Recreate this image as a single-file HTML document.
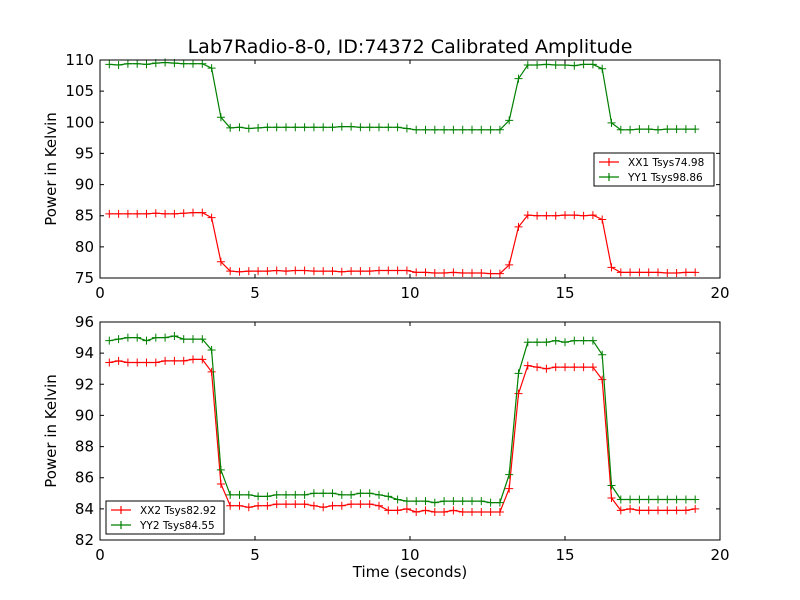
<!DOCTYPE html>
<html><head><meta charset="utf-8"><style>
body{margin:0;background:#fff;}
svg{display:block;font-family:"DejaVu Sans","Liberation Sans",sans-serif;}
</style></head><body>
<svg id="chart" width="800" height="600" viewBox="0 0 800 600">
<rect width="800" height="600" fill="#fff"/>
<text x="410" y="53" font-size="19" text-anchor="middle">Lab7Radio-8-0, ID:74372 Calibrated Amplitude</text>
<text x="410" y="577" font-size="15" text-anchor="middle">Time (seconds)</text>
</svg>
<script>
const times=[];for(let i=0;i<64;i++)times.push(+(0.3+0.3*i).toFixed(2));
const xx1=[85.3,85.3,85.3,85.3,85.3,85.4,85.3,85.3,85.4,85.5,85.5,84.7,77.6,76.1,76.0,76.1,76.1,76.1,76.2,76.1,76.2,76.2,76.1,76.1,76.1,76.0,76.1,76.1,76.1,76.2,76.2,76.2,76.2,75.9,75.9,75.8,75.8,75.9,75.8,75.8,75.8,75.7,75.7,77.1,83.2,85.1,85.0,85.0,85.0,85.1,85.1,85.0,85.1,84.4,76.7,75.9,75.9,75.9,75.9,75.9,75.8,75.8,75.9,75.9];
const yy1=[109.3,109.2,109.4,109.4,109.3,109.5,109.6,109.5,109.4,109.4,109.4,108.7,100.8,99.1,99.2,99.0,99.1,99.2,99.2,99.2,99.2,99.2,99.2,99.2,99.2,99.3,99.3,99.2,99.2,99.2,99.2,99.2,99.0,98.8,98.8,98.8,98.8,98.8,98.8,98.8,98.8,98.8,98.8,100.3,107.0,109.2,109.2,109.3,109.2,109.2,109.1,109.3,109.3,108.6,99.9,98.8,98.8,98.9,98.9,98.8,98.9,98.9,98.9,98.9];
const xx2=[93.4,93.5,93.4,93.4,93.4,93.4,93.5,93.5,93.5,93.6,93.6,92.8,85.6,84.2,84.2,84.1,84.2,84.2,84.3,84.3,84.3,84.3,84.2,84.1,84.2,84.2,84.3,84.3,84.3,84.2,83.9,83.9,84.0,83.8,83.9,83.8,83.8,83.9,83.8,83.8,83.8,83.8,83.8,85.3,91.4,93.2,93.1,93.0,93.1,93.1,93.1,93.1,93.1,92.3,84.7,83.9,84.0,83.9,83.9,83.9,83.9,83.9,83.9,84.0];
const yy2=[94.8,94.9,95.0,95.0,94.8,95.0,95.0,95.1,94.9,94.9,94.9,94.2,86.5,84.9,84.9,84.9,84.8,84.8,84.9,84.9,84.9,84.9,85.0,85.0,85.0,84.9,84.9,85.0,85.0,84.9,84.8,84.6,84.5,84.5,84.5,84.4,84.5,84.5,84.5,84.5,84.5,84.4,84.4,86.2,92.7,94.7,94.7,94.7,94.8,94.7,94.8,94.8,94.8,93.9,85.5,84.6,84.6,84.6,84.6,84.6,84.6,84.6,84.6,84.6];
const xTicks=[0,5,10,15,20];
const yTicksTop=[75,80,85,90,95,100,105,110];
const yTicksBot=[82,84,86,88,90,92,94,96];
const NS='http://www.w3.org/2000/svg';
const svg=document.getElementById('chart');
function mk(tag,attrs,parent){const e=document.createElementNS(NS,tag);for(const k in attrs)e.setAttribute(k,attrs[k]);(parent||svg).appendChild(e);return e;}
function panel(name,top,bot,ymin,ymax,yTicks,series,legend){
  const L=100,R=720;
  const sx=v=>L+(v-0)/(20-0)*(R-L);
  const sy=v=>bot-(v-ymin)/(ymax-ymin)*(bot-top);
  const g=mk('g',{});
  
  
  mk('rect',{x:L,y:top,width:R-L,height:bot-top,fill:'#fff'},g);
  series.forEach(s=>{
    const sg=mk('g',{},g);
    
    
    const pts=times.map((t,i)=>sx(t).toFixed(1)+','+sy(s.vals[i]).toFixed(1)).join(' ');
    mk('polyline',{points:pts,fill:'none',stroke:s.color,'stroke-width':1.2},sg);
    times.forEach((t,i)=>{
      const x=sx(t),y=sy(s.vals[i]);
      const m=mk('path',{d:`M${x-4},${y}H${x+4}M${x},${y-4}V${y+4}`,stroke:s.color,'stroke-width':1},sg);
      
      
    });
  });
  mk('rect',{x:L,y:top,width:R-L,height:bot-top,fill:'none',stroke:'#000','stroke-width':1},g);
  xTicks.forEach(v=>{
    const x=sx(v);
    mk('path',{d:`M${x},${bot}v-4M${x},${top}v4`,stroke:'#000'},g);
    const t=mk('text',{x:x,y:bot+20,'font-size':15,'text-anchor':'middle'},g);
    t.textContent=v;
    
    
  });
  yTicks.forEach(v=>{
    const y=sy(v);
    mk('path',{d:`M${L},${y}h4M${R},${y}h-4`,stroke:'#000'},g);
    const t=mk('text',{x:L-6,y:y+5,'font-size':15,'text-anchor':'end'},g);
    t.textContent=v;
    
    
  });
  const yt=mk('text',{x:0,y:0,'font-size':15,'text-anchor':'middle',transform:`translate(${L-44},${(top+bot)/2}) rotate(-90)`},g);
  yt.textContent='Power in Kelvin';
  
  
  const lg=mk('g',{},g);
  
  
  mk('rect',{x:legend.x,y:legend.y,width:legend.w,height:33,fill:'#fff',stroke:'#000','stroke-width':1},lg);
  series.forEach((s,k)=>{
    const y=legend.y+9+k*15;
    const e=mk('g',{},lg);
    
    
    mk('path',{d:`M${legend.x+5},${y}h20M${legend.x+15},${y-4}v8`,stroke:s.color,'stroke-width':1.2},e);
    const t=mk('text',{x:legend.x+34,y:y+4,'font-size':10.5},e);
    t.textContent=s.label;
  });
}
panel('top-panel',60,278,75,110,yTicksTop,[
  {name:'xx1-series',vals:xx1,color:'#ff0000',label:'XX1 Tsys74.98'},
  {name:'yy1-series',vals:yy1,color:'#008000',label:'YY1 Tsys98.86'}],{x:594,y:153,w:120});
panel('bottom-panel',322,540,82,96,yTicksBot,[
  {name:'xx2-series',vals:xx2,color:'#ff0000',label:'XX2 Tsys82.92'},
  {name:'yy2-series',vals:yy2,color:'#008000',label:'YY2 Tsys84.55'}],{x:106,y:501,w:118});
</script>
</body></html>
